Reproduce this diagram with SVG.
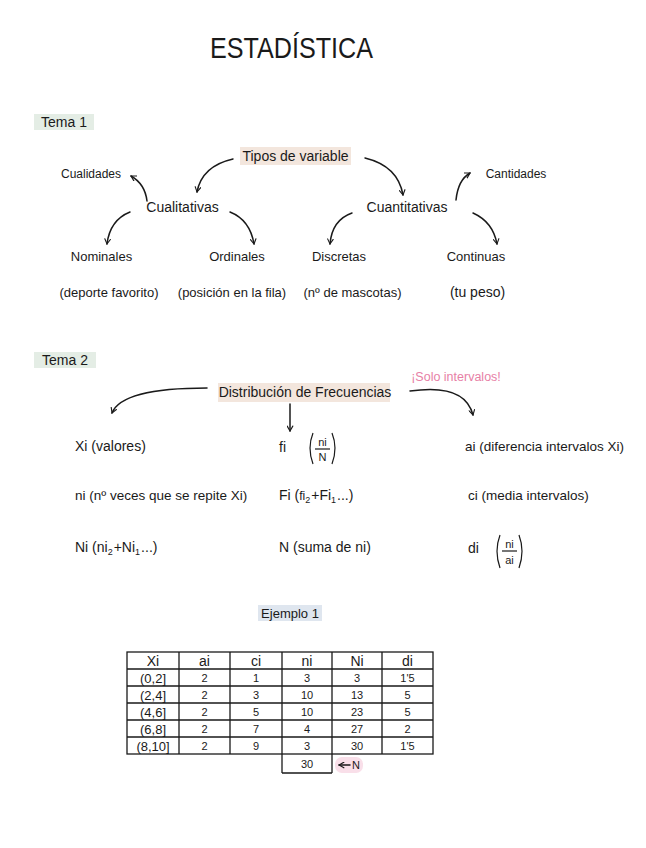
<svg xmlns="http://www.w3.org/2000/svg" width="646" height="848" viewBox="0 0 646 848">
<defs>
<style>
text{font-family:"Liberation Sans","DejaVu Sans",sans-serif;fill:#1a1a1a;font-size:13px}
.c{text-anchor:middle}
.s{font-size:11px}
.t{font-size:14px}
.m{font-size:14px}
.sub{font-size:9px}
.pink{fill:#e77fa6}
.ln{fill:none;stroke:#1a1a1a;stroke-width:1.5;stroke-linecap:round}
.tb{fill:none;stroke:#1a1a1a;stroke-width:1.3}
</style>
<marker id="ah" viewBox="0 0 10 10" refX="8" refY="5" markerWidth="7" markerHeight="7" orient="auto-start-reverse" markerUnits="userSpaceOnUse">
<path d="M1,1 L8,5 L1,9" fill="none" stroke="#1a1a1a" stroke-width="1.6" stroke-linecap="round"/>
</marker>
</defs>
<rect width="646" height="848" fill="#ffffff"/>

<g id="title">
<text x="210" y="58" style="font-size:30px" textLength="163" lengthAdjust="spacingAndGlyphs">ESTADÍSTICA</text>
</g>

<g id="tema1">
<rect x="34" y="114" width="60" height="16" fill="#e4ede5"/>
<text x="64" y="127" class="t c">Tema 1</text>
</g>

<g id="tipos">
<rect x="240" y="147" width="111" height="18" fill="#f3e6dd"/>
<text x="295.5" y="161" class="c" style="font-size:14px">Tipos de variable</text>
</g>
<g id="cualidades"><text x="91" y="178" class="c" style="font-size:12px">Cualidades</text></g>
<g id="cantidades"><text x="516" y="178" class="c" style="font-size:12px">Cantidades</text></g>
<g id="cualitativas"><text x="182.5" y="212" class="c" style="font-size:14px">Cualitativas</text></g>
<g id="cuantitativas"><text x="407" y="212" class="c" style="font-size:14px">Cuantitativas</text></g>
<g id="nominales"><text x="101.5" y="261" class="c">Nominales</text></g>
<g id="ordinales"><text x="237" y="261" class="c">Ordinales</text></g>
<g id="discretas"><text x="339" y="261" class="c">Discretas</text></g>
<g id="continuas"><text x="476" y="261" class="c">Continuas</text></g>
<g id="ej-nominales"><text x="109" y="297" class="c">(deporte favorito)</text></g>
<g id="ej-ordinales"><text x="232" y="297" class="c">(posición en la fila)</text></g>
<g id="ej-discretas"><text x="352.5" y="297" class="c">(nº de mascotas)</text></g>
<g id="ej-continuas"><text x="477.5" y="297" class="c" style="font-size:14px">(tu peso)</text></g>

<g id="tema2">
<rect x="34" y="352" width="62" height="16" fill="#e4ede5"/>
<text x="65" y="365" class="t c">Tema 2</text>
</g>
<g id="distribucion">
<rect x="218" y="383" width="172" height="19" fill="#f3e6dd"/>
<text x="305" y="397" class="c" style="font-size:14px">Distribución de Frecuencias</text>
</g>
<g id="solo"><text x="456" y="381" class="c pink" style="font-size:12.5px">¡Solo intervalos!</text></g>

<g id="xi"><text x="75" y="451" class="m">Xi (valores)</text></g>
<g id="fi">
<text x="279" y="452" class="m">fi</text>
<path d="M313,433 Q307,448 313,464 M332,433 Q338,448 332,464" fill="none" stroke="#1a1a1a" stroke-width="1.2"/>
<text x="322.5" y="446" class="c s">ni</text>
<line x1="315" y1="449" x2="330" y2="449" stroke="#1a1a1a" stroke-width="1.2"/>
<text x="322.5" y="461" class="c s">N</text>
</g>
<g id="ai"><text x="465" y="451" style="font-size:13.5px">ai (diferencia intervalos Xi)</text></g>

<g id="ni"><text x="75" y="500" style="font-size:13.5px">ni (nº veces que se repite Xi)</text></g>
<g id="Fi"><text x="279" y="500" class="m">Fi (<tspan style="font-size:12px">fi</tspan><tspan class="sub" dy="3">2</tspan><tspan dy="-3" dx="1">+Fi</tspan><tspan class="sub" dy="3">1</tspan><tspan dy="-3" dx="1">...)</tspan></text></g>
<g id="ci"><text x="468" y="500" style="font-size:13.5px">ci (media intervalos)</text></g>

<g id="Ni"><text x="75" y="552" class="m">Ni (ni<tspan class="sub" dy="3">2</tspan><tspan dy="-3" dx="1">+Ni</tspan><tspan class="sub" dy="3">1</tspan><tspan dy="-3" dx="1">...)</tspan></text></g>
<g id="N"><text x="279" y="552" class="m">N (suma de ni)</text></g>
<g id="di">
<text x="468" y="553" class="m">di</text>
<path d="M500,535 Q494,551 500,568 M519,535 Q525,551 519,568" fill="none" stroke="#1a1a1a" stroke-width="1.2"/>
<text x="509.5" y="548" class="c s">ni</text>
<line x1="502" y1="551" x2="517" y2="551" stroke="#1a1a1a" stroke-width="1.2"/>
<text x="509.5" y="564" class="c s">ai</text>
</g>

<g id="ejemplo">
<rect x="258" y="605" width="64" height="16" fill="#dfe6ef"/>
<text x="290" y="618" class="c">Ejemplo 1</text>
</g>

<g id="tabla">
<rect x="127" y="652" width="306" height="102" class="tb"/>
<path d="M127,669H433M127,686H433M127,703H433M127,720H433M127,737H433M179,652V754M230,652V754M282,652V773M332,652V773M382,652V754M282,773H332" class="tb"/>
<text x="153" y="666" class="c" style="font-size:14px">Xi</text>
<text x="204.5" y="666" class="c" style="font-size:14px">ai</text>
<text x="256" y="666" class="c" style="font-size:14px">ci</text>
<text x="307" y="666" class="c" style="font-size:14px">ni</text>
<text x="357" y="666" class="c" style="font-size:14px">Ni</text>
<text x="407.5" y="666" class="c" style="font-size:14px">di</text>

<text x="153" y="683" class="c">(0,2]</text>
<text x="204.5" y="682" class="c s">2</text>
<text x="256" y="682" class="c s">1</text>
<text x="307" y="682" class="c s">3</text>
<text x="357" y="682" class="c s">3</text>
<text x="407.5" y="682" class="c s">1'5</text>

<text x="153" y="700" class="c">(2,4]</text>
<text x="204.5" y="699" class="c s">2</text>
<text x="256" y="699" class="c s">3</text>
<text x="307" y="699" class="c s">10</text>
<text x="357" y="699" class="c s">13</text>
<text x="407.5" y="699" class="c s">5</text>

<text x="153" y="717" class="c">(4,6]</text>
<text x="204.5" y="716" class="c s">2</text>
<text x="256" y="716" class="c s">5</text>
<text x="307" y="716" class="c s">10</text>
<text x="357" y="716" class="c s">23</text>
<text x="407.5" y="716" class="c s">5</text>

<text x="153" y="734" class="c">(6,8]</text>
<text x="204.5" y="733" class="c s">2</text>
<text x="256" y="733" class="c s">7</text>
<text x="307" y="733" class="c s">4</text>
<text x="357" y="733" class="c s">27</text>
<text x="407.5" y="733" class="c s">2</text>

<text x="153" y="751" class="c">(8,10]</text>
<text x="204.5" y="750" class="c s">2</text>
<text x="256" y="750" class="c s">9</text>
<text x="307" y="750" class="c s">3</text>
<text x="357" y="750" class="c s">30</text>
<text x="407.5" y="750" class="c s">1'5</text>

<text x="307" y="768" class="c s">30</text>
<rect x="335" y="757" width="28" height="16" rx="7" fill="#f9dfe9"/>
<text x="356" y="769" class="c s">N</text>
</g>

<g id="connectors">
<path d="M233,159 Q202,166 197,192" class="ln" marker-end="url(#ah)"/>
<path d="M365,158 Q398,166 403,195" class="ln" marker-end="url(#ah)"/>
<path d="M147,201 Q145,184 131,176" class="ln" marker-end="url(#ah)"/>
<path d="M456,200 Q458,180 470,173" class="ln" marker-end="url(#ah)"/>
<path d="M130,212 Q110,220 107,244" class="ln" marker-end="url(#ah)"/>
<path d="M230,212 Q250,220 254,244" class="ln" marker-end="url(#ah)"/>
<path d="M352,213 Q332,220 330,244" class="ln" marker-end="url(#ah)"/>
<path d="M473,213 Q493,222 497,244" class="ln" marker-end="url(#ah)"/>
<path d="M207,388 Q122,388 112,413" class="ln" marker-end="url(#ah)"/>
<path d="M290,404 L290,431" class="ln" marker-end="url(#ah)"/>
<path d="M410,391 Q465,383 473,415" class="ln" marker-end="url(#ah)"/>
<path d="M350,765 L339,765" class="ln" stroke-width="1.2" marker-end="url(#ah)"/>
</g>
</svg>
